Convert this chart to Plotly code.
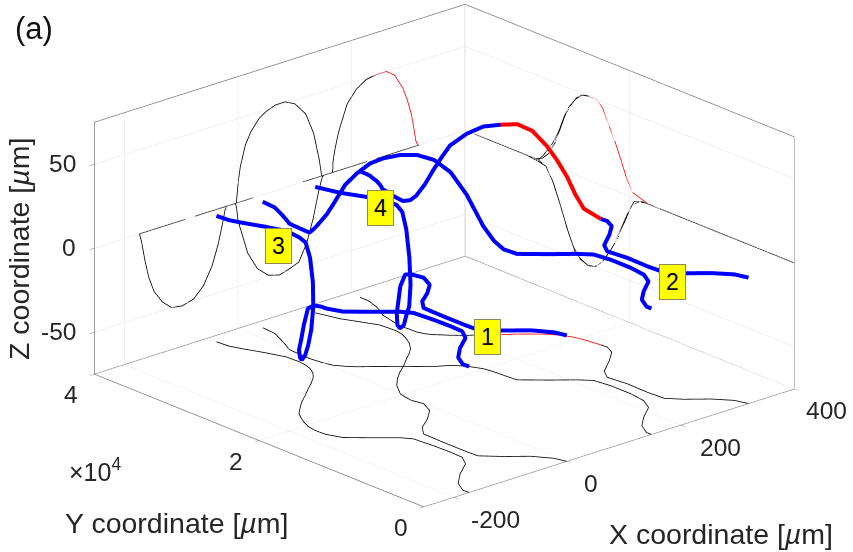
import plotly.graph_objects as go

# Track coordinates. x in um, y in units of 100 um, z in um.
track_a_x = [-173,-174,-162,-137,-107,-94,-93,-94,-97,-107,-140,-163,-172,-173,-173,-170,-164,-157,-148,-133,-117,-98,-78,-61,-46,-35,-27,-23,-21,-22,-32,-45,-52,-54]
track_a_y = [0,7,21,36,50,63,77,98,120,129,147,160,174,181,189,198,207,215,224,233,242,251,261,269,277,285,294,302,311,326,344,363,375,389]
track_a_z = [0,0,0,0,0,0,0,0,0,0,0,0,0,0,-1,-5,-17,-28,-37,-45,-50,-51,-49,-43,-33,-21,-9,-2,-1,0,0,0,0,0]

track_b_x = [148,148,160,182,211,223,227,227,223,208,181,149,147,146,143,133,119,100,83,66,50,37,23,13,4,1,-1,-2,-3,-3,-2,-2,-1,6,14,24,26]
track_b_y = [0,6,20,33,47,61,79,104,122,132,146,164,179,190,201,214,224,231,240,249,258,265,272,279,287,293,300,305,311,318,326,331,337,346,357,372,388]
track_b_z = [0,0,0,0,0,0,0,0,0,0,0,0,0,3,10,27,40,48,51,51,49,46,40,33,21,14,8,4,0,0,0,0,0,0,0,0,0]

track_c_x = [319,313,293,266,249,247,248,244,256,287,310,318,317,313,310,305,298,290,276,261,243,226,208,192,185,177,171,167,167,166,167,169,172,175,183,189,192,195,196,196]
track_c_y = [0,13,28,42,54,73,98,120,132,147,160,171,178,196,204,211,218,225,233,241,249,258,266,275,280,285,291,299,306,314,321,328,336,345,354,362,369,374,379,387]
track_c_z = [0,0,0,0,0,0,0,0,0,0,0,0,0,3,10,20,29,37,46,50,50,49,45,38,31,23,14,6,2,0,0,0,0,0,0,0,0,0,0,0]

track_d_x = [-1,-6,-24,-51,-75,-76,-76,-75,-60,-35,-12,-1,-5,-5,-3,0,17,34,53,73,92,107,121,132,141,147,150,149,148,142,136,130,124,114]
track_d_y = [0,12,28,42,57,73,98,123,135,146,159,174,186,186,195,203,219,230,240,249,259,266,274,283,293,302,311,321,330,338,346,354,362,385]
track_d_z = [0,0,0,0,0,0,0,0,0,0,0,0,0,0,-2,-11,-32,-43,-49,-51,-49,-47,-37,-24,-10,-2,0,0,0,0,0,0,0,0]

tracks = [(track_a_x, track_a_y, track_a_z), (track_b_x, track_b_y, track_b_z),
          (track_c_x, track_c_y, track_c_z), (track_d_x, track_d_y, track_d_z)]
red_track = 2
twin_track = 1   # same y-z path as the red track on the side wall
red_y_span = (178, 249)

x_range = [-253, 400]
y_range = [0, 400]
z_range = [-75, 75]
x_ticks = [-200, 0, 200, 400]
y_ticks = [0, 200, 400]
y_tick_text = ["0", "2", "4"]
z_ticks = [-50, 0, 50]
x_tick_text = ["-200", "0", "200", "400"]
z_tick_text = ["-50", "0", "50"]

BLUE, RED, BLACK, GREY = "#0000ff", "#ff0000", "#000000", "#6b6b6b"
fig = go.Figure()

def line(x, y, z, color, width):
    fig.add_trace(go.Scatter3d(x=x, y=y, z=z, mode="lines", showlegend=False, hoverinfo="skip",
                               line=dict(color=color, width=width)))

# axes box
x0, x1 = x_range; y0, y1 = y_range; z0, z1 = z_range
line([x0, x1, None, x1, x0, x0, None, x0, x1, x1, None, x0, x1, None, x1, x1, None, x0, x0, x0, None],
     [y0, y0, None, y0, y0, y1, None, y1, y1, y0, None, y1, y1, None, y1, y1, None, y1, y1, y1, None],
     [z0, z0, None, z0, z0, z0, None, z0, z0, z0, None, z1, z1, None, z0, z1, None, z0, z1, z1, None], GREY, 1.3)
line([x1, x1, None, x1, x1], [y0, y1, None, y0, y0], [z1, z1, None, z0, z1], GREY, 1.3)

def pieces(i, x, y, z):
    if i != red_track:
        return [(x, y, z, False)]
    lo = next(k for k, v in enumerate(y) if v >= red_y_span[0])
    hi = next(k for k, v in enumerate(y) if v >= red_y_span[1])
    return [(x[:lo + 1], y[:lo + 1], z[:lo + 1], False),
            (x[lo:hi + 1], y[lo:hi + 1], z[lo:hi + 1], True),
            (x[hi:], y[hi:], z[hi:], False)]

for i, (tx, ty, tz) in enumerate(tracks):
    for px, py, pz, is_red in pieces(i, tx, ty, tz):
        n = len(px)
        c = RED if is_red else BLACK
        line(px, py, [z0] * n, c, 1.6)          # floor projection
        line(px, [y1] * n, pz, c, 1.6)          # back wall projection
        if i == twin_track:
            sy = [v if not (red_y_span[0] < v < red_y_span[1]) else None for v in py]
            line([x1] * n, sy, [w if s is not None else None for w, s in zip(pz, sy)], c, 1.6)
        else:
            line([x1] * n, py, pz, c, 1.6)      # side wall projection
for i, (tx, ty, tz) in enumerate(tracks):
    for px, py, pz, is_red in pieces(i, tx, ty, tz):
        line(px, py, pz, RED if is_red else BLUE, 8)

TXT = "#262626"
def axis(rng, tv):
    return dict(range=rng, tickvals=tv, title=dict(text=""), showticklabels=False,
                showbackground=False, showgrid=True, gridcolor="#e4e4e4", gridwidth=1, zeroline=False,
                showline=False, ticks="outside", ticklen=6, tickcolor=GREY, showspikes=False)

def note(text, u, v, size, **kw):
    return dict(text=text, x=u / 853, y=1 - v / 552, xref="paper", yref="paper", showarrow=False,
                xanchor="center", yanchor="middle",
                font=dict(family="Liberation Sans", size=size, color=kw.pop("color", TXT)), **kw)

def tick_note(text, x, y, z, xshift, yshift, anchor):
    return dict(text=text, x=x, y=y, z=z, xshift=xshift, yshift=yshift, showarrow=False,
                xanchor=anchor, yanchor="middle", font=dict(family="Liberation Sans", size=24.5, color=TXT))

scene_notes = []
edge = x0 + 2
for v, t in zip(z_ticks, z_tick_text):
    scene_notes.append(tick_note(t, edge, y1, v, -17, 0, "right"))
for v, t in zip(y_ticks, y_tick_text):
    scene_notes.append(tick_note(t, edge, v, z0, -24, -21, "center"))
for v, t, s in zip(x_ticks, x_tick_text, [15, 15, 17, 9]):
    scene_notes.append(tick_note(t, v, y0, z0, s, -22, "left"))

notes = [note("(a)", 34, 28, 31, color="#111111"),
         note("Z coordinate [<i>µ</i>m]", 19, 249, 28.5, textangle=-90),
         note("Y coordinate [<i>µ</i>m]", 176, 523, 28.5),
         note("X coordinate [<i>µ</i>m]", 721, 534, 28.5),
         note("×10<sup>4</sup>", 95, 470, 25)]
for lab, u, v in [("1", 487, 337), ("2", 672, 282), ("3", 278, 246), ("4", 380, 208)]:
    notes.append(note(lab, u, v, 23, color="#000000", bgcolor="#ffff00", bordercolor="#8a8a5a", borderwidth=1,
                      width=23, height=32))

S = 1.797
D = 2.0
centre = dict(x=-0.0176, y=-0.0198, z=-0.0690)
fig.update_layout(width=853, height=552, margin=dict(l=0, r=0, t=0, b=0), paper_bgcolor="white",
    annotations=notes, showlegend=False,
    scene=dict(domain=dict(x=[0.042, 1], y=[0, 1]), annotations=scene_notes,
               xaxis=axis(x_range, x_ticks), yaxis=axis(y_range, y_ticks), zaxis=axis(z_range, z_ticks),
               aspectmode="manual", aspectratio=dict(x=S, y=S, z=0.544 * S),
               camera=dict(projection=dict(type="orthographic"), up=dict(x=0, y=0, z=1),
                           center=centre,
                           eye=dict(x=centre["x"] - 0.62 * D, y=centre["y"] - 0.698 * D, z=centre["z"] + 0.358 * D))))
fig.write_html("out.html", config=dict(displayModeBar=False),
               post_script="document.body.style.margin='0';document.body.style.overflow='hidden';")
